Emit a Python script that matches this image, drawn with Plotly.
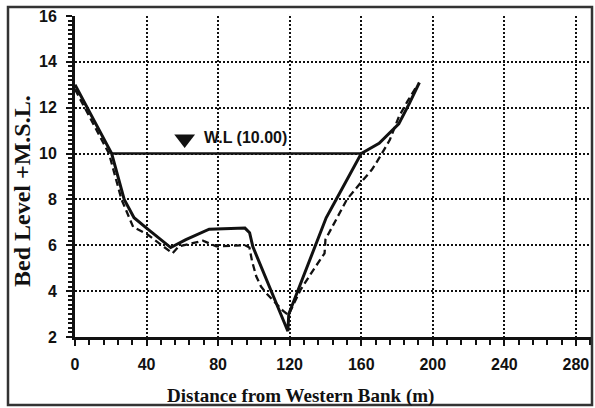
import plotly.graph_objects as go

# Cross-section survey: distance from western bank (m) vs bed level (+M.S.L.)
section_a_x = [0, 20.5, 27.5, 33, 40, 53.5, 62, 75, 95, 97.6, 99.4, 119, 119.5,
               140.4, 146, 160, 170, 181, 187, 192.5]
section_a_y = [13.0, 10.0, 8.0, 7.2, 6.75, 5.9, 6.25, 6.7, 6.75, 6.55, 5.94, 2.25, 3.0,
               7.2, 8.0, 10.0, 10.45, 11.3, 12.2, 13.1]

section_b_x = [0, 19, 26, 32.5, 40, 54.5, 58, 71.5, 79, 95, 97.5, 99, 101.3, 104, 107,
               116.2, 119.3, 126, 133, 139.5, 140, 152, 161, 166, 170, 176, 181, 186, 191.5]
section_b_y = [12.8, 10.0, 8.0, 6.8, 6.5, 5.65, 5.95, 6.2, 5.95, 6.0, 5.9, 5.3, 4.65, 4.2, 3.9,
               3.15, 2.95, 4.05, 4.9, 5.65, 6.25, 8.0, 8.85, 9.3, 9.8, 10.6, 11.6, 12.3, 13.0]

# Water level line and its label
water_level = 10.0
wl_x = [20.5, 160]
wl_marker_x = [61.3]
wl_marker_y = [10.64]
wl_label = "W.L (10.00)"

x_ticks = [0, 40, 80, 120, 160, 200, 240, 280]
y_ticks = [2, 4, 6, 8, 10, 12, 14, 16]

fig = go.Figure()

fig.add_trace(go.Scatter(
    x=wl_x, y=[water_level] * len(wl_x), mode="lines",
    line=dict(color="#111111", width=2.5), showlegend=False, hoverinfo="skip"))

fig.add_trace(go.Scatter(
    x=section_b_x, y=section_b_y, mode="lines",
    line=dict(color="#111111", width=2.3, dash="7px,4px"), showlegend=False))

fig.add_trace(go.Scatter(
    x=section_a_x, y=section_a_y, mode="lines",
    line=dict(color="#111111", width=3), showlegend=False))

fig.add_trace(go.Scatter(
    x=wl_marker_x, y=wl_marker_y, mode="markers",
    marker=dict(symbol="triangle-down", size=18, color="#111111"),
    showlegend=False))

fig.add_annotation(
    x=wl_marker_x[0] + 9.5, y=wl_marker_y[0] + 0.05, xref="x", yref="y",
    text=wl_label, showarrow=False, xanchor="left", yanchor="middle",
    font=dict(family="Liberation Sans", size=16, color="#111111", weight="bold"))

tick_font = dict(family="Liberation Sans", size=16, color="#111111", weight="bold")

fig.update_xaxes(
    range=[0, 289], tickvals=x_ticks, ticktext=[str(v) for v in x_ticks],
    showline=True, linewidth=3, linecolor="#111111",
    ticks="outside", ticklen=6, tickwidth=2, tickcolor="#111111",
    showgrid=True, gridcolor="#111111", gridwidth=2, griddash="2px,2px",
    zeroline=False, tickfont=tick_font, ticklabelstandoff=5,
    minor=dict(dtick=8, tick0=0, ticks="outside", ticklen=5, tickwidth=2,
               tickcolor="#111111", showgrid=False))

fig.update_yaxes(
    range=[2, 16], tickvals=y_ticks, ticktext=[str(v) for v in y_ticks],
    showline=True, linewidth=3, linecolor="#111111",
    ticks="outside", ticklen=6, tickwidth=2, tickcolor="#111111",
    showgrid=True, gridcolor="#111111", gridwidth=2, griddash="2px,2px",
    zeroline=False, tickfont=tick_font, ticklabelstandoff=6,
    minor=dict(dtick=0.2, tick0=2, ticks="outside", ticklen=4, tickwidth=1.5,
               tickcolor="#111111", showgrid=False))

title_font = dict(family="Liberation Serif", color="#111111", weight="bold")

fig.add_annotation(
    x=0.437, y=-0.184, xref="paper", yref="paper", showarrow=False,
    text="Distance from Western Bank (m)", xanchor="center", yanchor="middle",
    font=dict(size=19, **title_font))

fig.add_annotation(
    x=-0.1025, y=0.455, xref="paper", yref="paper", showarrow=False,
    text="Bed Level +M.S.L.", textangle=-90, xanchor="center", yanchor="middle",
    font=dict(size=24, **title_font))

# Frame around the whole figure
fig.add_shape(
    type="rect", xref="paper", yref="paper",
    x0=-0.1296, x1=1.0, y0=-0.2118, y1=1.028,
    line=dict(color="#333333", width=2.5), layer="above")

fig.update_layout(
    width=595, height=408,
    margin=dict(l=75, r=3, t=16, b=71),
    paper_bgcolor="white", plot_bgcolor="white",
    showlegend=False)

fig.write_html("out.html")
